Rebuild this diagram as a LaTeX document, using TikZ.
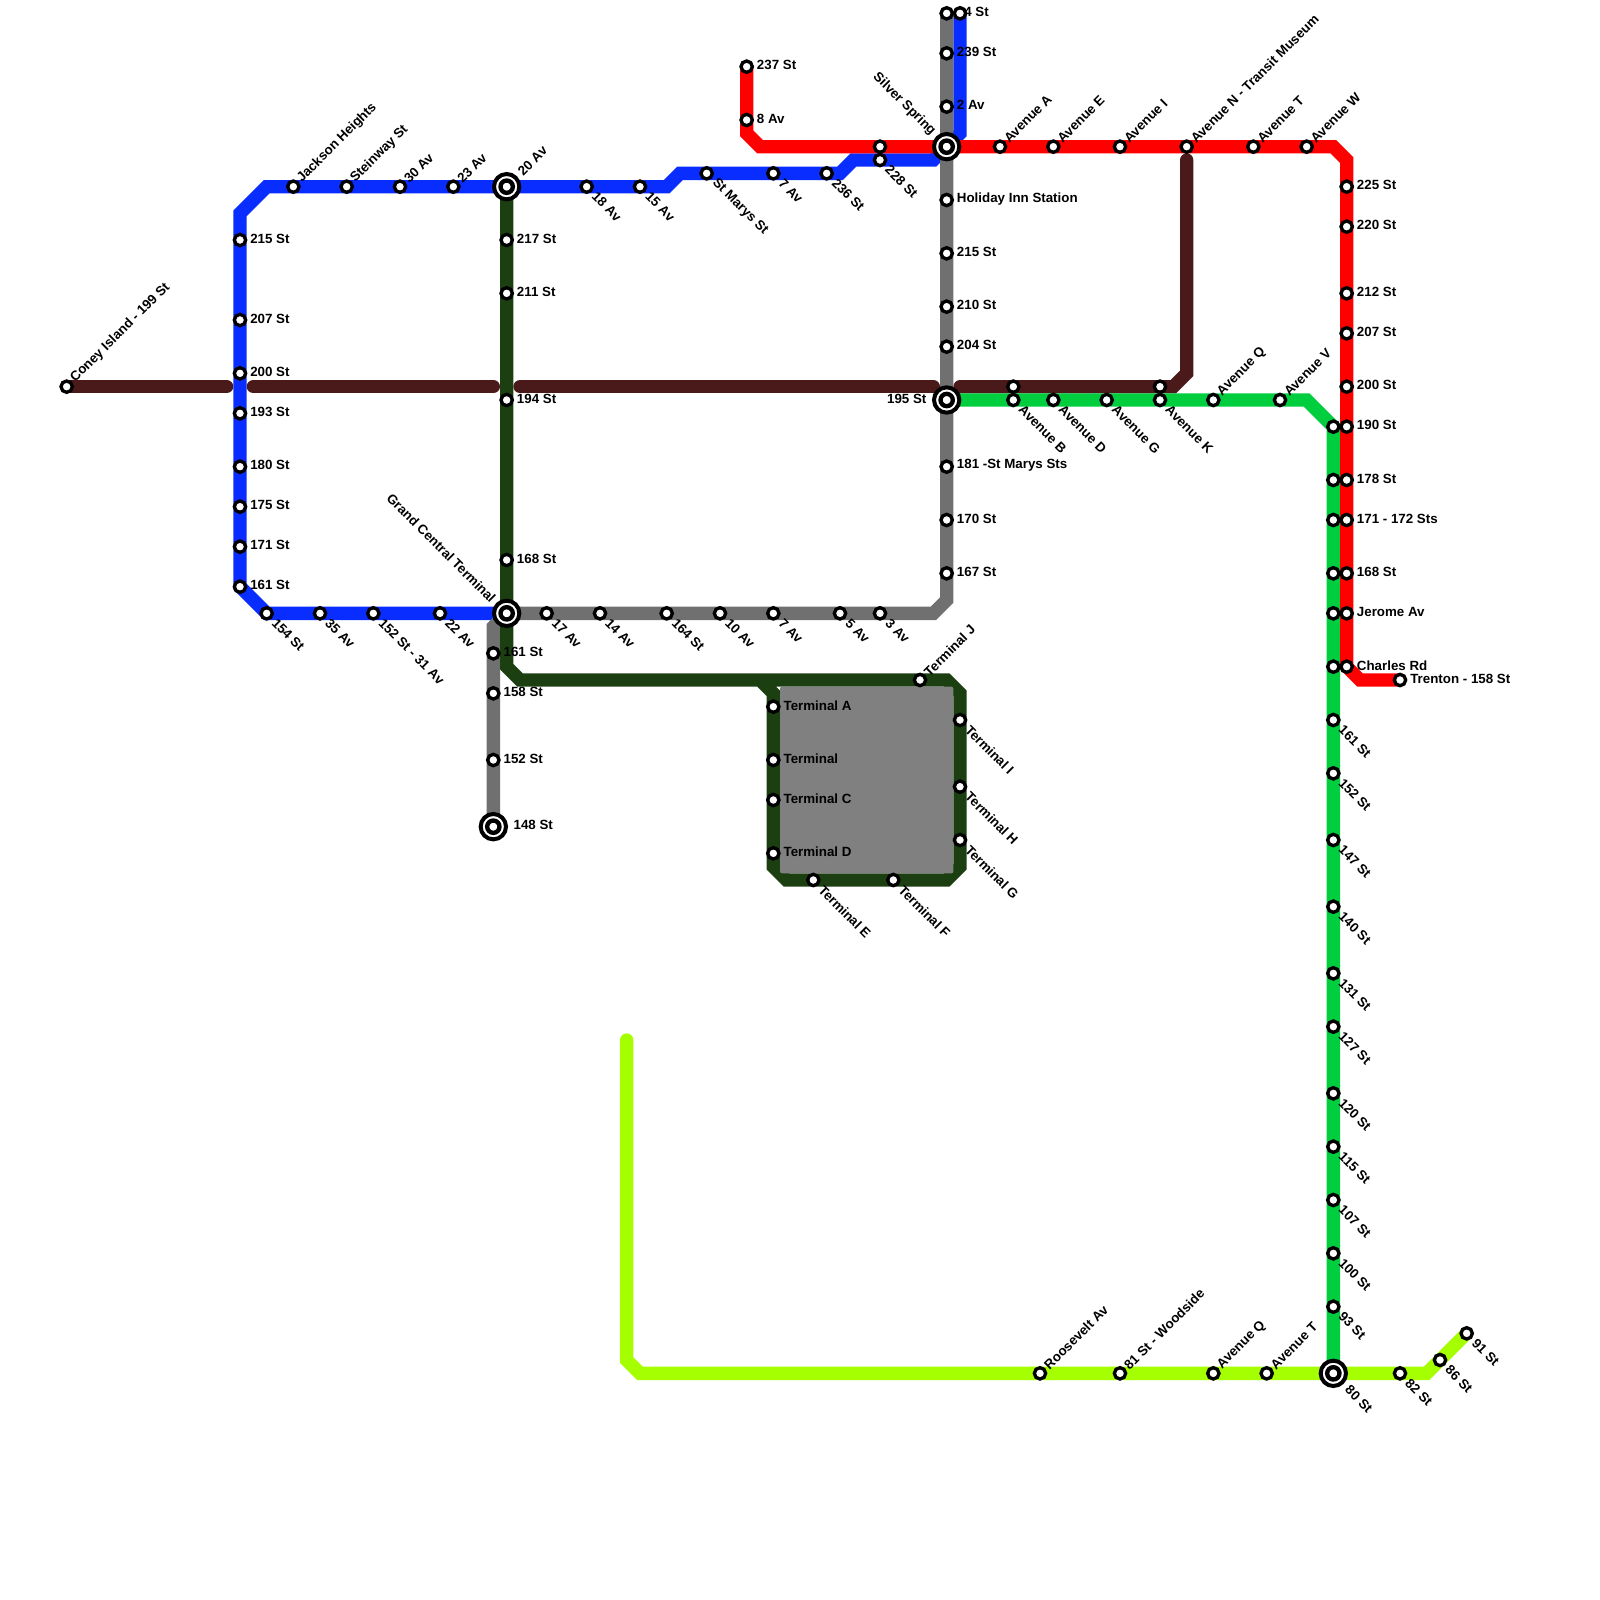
\documentclass[tikz,border=0pt]{standalone}
\usepackage{fontspec}
\setmainfont{Liberation Sans}
\usetikzlibrary{backgrounds}
\definecolor{brownline}{HTML}{4A1A1A}
\definecolor{blueline}{HTML}{0A2DFF}
\definecolor{greyline}{HTML}{707070}
\definecolor{darkline}{HTML}{1C3F12}
\definecolor{greenline}{HTML}{00CE3F}
\definecolor{redline}{HTML}{FF0000}
\definecolor{limeline}{HTML}{A6FF00}
\definecolor{termfill}{HTML}{808080}
\tikzset{
  route/.style={line width=10pt,line cap=round,line join=miter},
  stop/.style={circle,draw=black,fill=white,line width=2.5pt,minimum size=8.5pt,inner sep=0pt,outer sep=0pt},
  hub/.style={circle,draw=black,fill=white,line width=3pt,minimum size=19pt,inner sep=0pt,outer sep=0pt},
  hubcore/.style={circle,draw=black,fill=white,line width=3.25pt,minimum size=9.25pt,inner sep=0pt,outer sep=0pt},
  txt/.style={font=\fontsize{10}{12}\selectfont\bfseries,inner sep=0pt,text=black}
}
\begin{document}
\begin{tikzpicture}[x=10pt,y=-10pt]
\useasboundingbox (0,0) rectangle (120,120);

\foreach \x/\y/\t in {18/18/215 St,18/24/207 St,18/28/200 St,18/31/193 St,18/35/180 St,18/38/175 St,18/41/171 St,18/44/161 St,
  38/18/217 St,38/22/211 St,38/30/194 St,38/42/168 St,37/49/161 St,37/52/158 St,37/57/152 St,
  56/5/237 St,56/9/8 Av,71/1/44 St,71/4/239 St,71/8/2 Av,71/15/Holiday Inn Station,71/19/215 St,71/23/210 St,71/26/204 St,
  71/35/181 -St Marys Sts,71/39/170 St,71/43/167 St,58/53/Terminal A,58/57/Terminal,58/60/Terminal C,58/64/Terminal D,
  101/14/225 St,101/17/220 St,101/22/212 St,101/25/207 St,101/29/200 St,101/32/190 St,101/36/178 St,101/39/171 - 172 Sts,
  101/43/168 St,101/46/Jerome Av,101/50/Charles Rd,105/51/Trenton - 158 St}
{
    \node[stop](s\x-\y) at (\x,\y){};
    \node[txt,anchor=west](l\x-\y) at ([xshift=7.5pt,yshift=1pt]s\x-\y.center){\t};
}
\foreach \x/\y/\t in {5/29/Coney Island - 199 St,22/14/Jackson Heights,26/14/Steinway St,30/14/30 Av,34/14/23 Av,
  69/51/Terminal J,75/11/Avenue A,79/11/Avenue E,84/11/Avenue I,89/11/Avenue N - Transit Museum,94/11/Avenue T,98/11/Avenue W,
  91/30/Avenue Q,96/30/Avenue V,78/103/Roosevelt Av,84/103/81 St - Woodside,91/103/Avenue Q,95/103/Avenue T}
{
    \node[stop](s\x-\y) at (\x,\y){};
    \node[txt,anchor=west,rotate=45](l\x-\y) at ([shift={(45:6.5pt)}]s\x-\y.center){\t};
}
\foreach \x/\y/\t in {44/14/18 Av,48/14/15 Av,53/13/St Marys St,58/13/7 Av,62/13/236 St,66/12/228 St,
  20/46/154 St,24/46/35 Av,28/46/152 St - 31 Av,33/46/22 Av,41/46/17 Av,45/46/14 Av,50/46/164 St,54/46/10 Av,58/46/7 Av,63/46/5 Av,66/46/3 Av,
  61/66/Terminal E,67/66/Terminal F,72/63/Terminal G,72/59/Terminal H,72/54/Terminal I,
  76/30/Avenue B,79/30/Avenue D,83/30/Avenue G,87/30/Avenue K,
  100/54/161 St,100/58/152 St,100/63/147 St,100/68/140 St,100/73/131 St,100/77/127 St,100/82/120 St,100/86/115 St,100/90/107 St,100/94/100 St,100/98/93 St,
  105/103/82 St,108/102/86 St,110/100/91 St}
{
    \node[stop](s\x-\y) at (\x,\y){};
    \node[txt,anchor=west,rotate=-45](l\x-\y) at ([shift={(-45:8pt)}]s\x-\y.center){\t};
}
\foreach \x/\y in {72/1,66/11,76/29,87/29,100/32,100/36,100/39,100/43,100/46,100/50}
{
    \node[stop](s\x-\y) at (\x,\y){};
}

\foreach \n/\x/\y in {twentyav/38/14,grandcentral/38/46,silverspring/71/11,bridge/71/30,endgrey/37/62,woodside/100/103}
{
    \node[hub](\n) at (\x,\y){};
    \node[hubcore](\n core) at (\x,\y){};
}
\node[txt,anchor=west,rotate=45](twentyavl) at ([shift={(45:14pt)}]twentyav.center){20 Av};
\node[txt,anchor=east,rotate=-45](grandcentrall) at ([shift={(135:14pt)}]grandcentral.center){Grand Central Terminal};
\node[txt,anchor=east,rotate=-45](silverspringl) at ([shift={(135:14pt)}]silverspring.center){Silver Spring};
\node[txt,anchor=east](bridgel) at ([xshift=-15pt,yshift=1pt]bridge.center){195 St};
\node[txt,anchor=west](endgreyl) at ([xshift=15pt,yshift=1pt]endgrey.center){148 St};
\node[txt,anchor=west,rotate=-45](woodsidel) at ([shift={(-45:15pt)}]woodside.center){80 St};

\coordinate (br1) at (17,29);
\coordinate (br2) at (19,29);
\coordinate (br3) at (37,29);
\coordinate (br4) at (39,29);
\coordinate (br5) at (70,29);
\coordinate (br6) at (72,29);
\coordinate (br7) at (88,29);
\coordinate (br8) at (89,28);
\coordinate (br9) at (89,12);
\coordinate (bl1) at (18,16);
\coordinate (bl2) at (20,14);
\coordinate (bl3) at (50,14);
\coordinate (bl4) at (51,13);
\coordinate (bl5) at (63,13);
\coordinate (bl6) at (64,12);
\coordinate (bl7) at (70,12);
\coordinate (bl8) at (72,10);
\coordinate (gr1) at (71,45);
\coordinate (gr2) at (70,46);
\coordinate (gr3) at (37,47);
\coordinate (dk1) at (38,50);
\coordinate (dk2) at (39,51);
\coordinate (dk3) at (71,51);
\coordinate (dk4) at (72,52);
\coordinate (dk5) at (72,65);
\coordinate (dk6) at (71,66);
\coordinate (dk7) at (59,66);
\coordinate (dk8) at (58,65);
\coordinate (dk9) at (58,52);
\coordinate (dk10) at (57,51);
\coordinate (tm1) at (58.5,51.5);
\coordinate (tm2) at (71.5,65.5);
\coordinate (rd1) at (56,10);
\coordinate (rd2) at (57,11);
\coordinate (rd3) at (100,11);
\coordinate (rd4) at (101,12);
\coordinate (rd5) at (102,51);
\coordinate (gn1) at (98,30);
\coordinate (lm1) at (47,78);
\coordinate (lm2) at (47,102);
\coordinate (lm3) at (48,103);
\coordinate (lm4) at (107,103);

\begin{scope}[on background layer]
\draw[route,brownline](s5-29.center)--(br1);
\draw[route,brownline](br2)--(br3);
\draw[route,brownline](br4)--(br5);
\draw[route,brownline](br6)--(br7)--(br8)--(br9);
\draw[route,blueline](grandcentral.center)--(s20-46.center)--(s18-44.center)--(bl1)--(bl2)--(twentyav.center)--(bl3)--(bl4)--(bl5)--(bl6)--(bl7)--(silverspring.center)--(bl8)--(s72-1.center);
\draw[route,greyline](s71-1.center)--(gr1)--(gr2)--(grandcentral.center)--(gr3)--(endgrey.center);
\draw[route,darkline](twentyav.center)--(dk1)--(dk2)--(dk3)--(dk4)--(dk5)--(dk6)--(dk7)--(dk8)--(dk9)--(dk10);
\fill[termfill,rounded corners=1.5pt](tm1) rectangle (tm2);
\draw[route,greenline](bridge.center)--(gn1)--(s100-32.center)--(woodside.center);
\draw[route,redline](s56-5.center)--(rd1)--(rd2)--(rd3)--(rd4)--(s101-50.center)--(rd5)--(s105-51.center);
\draw[route,limeline](lm1)--(lm2)--(lm3)--(lm4)--(s110-100.center);
\end{scope}
\end{tikzpicture}
\end{document}
